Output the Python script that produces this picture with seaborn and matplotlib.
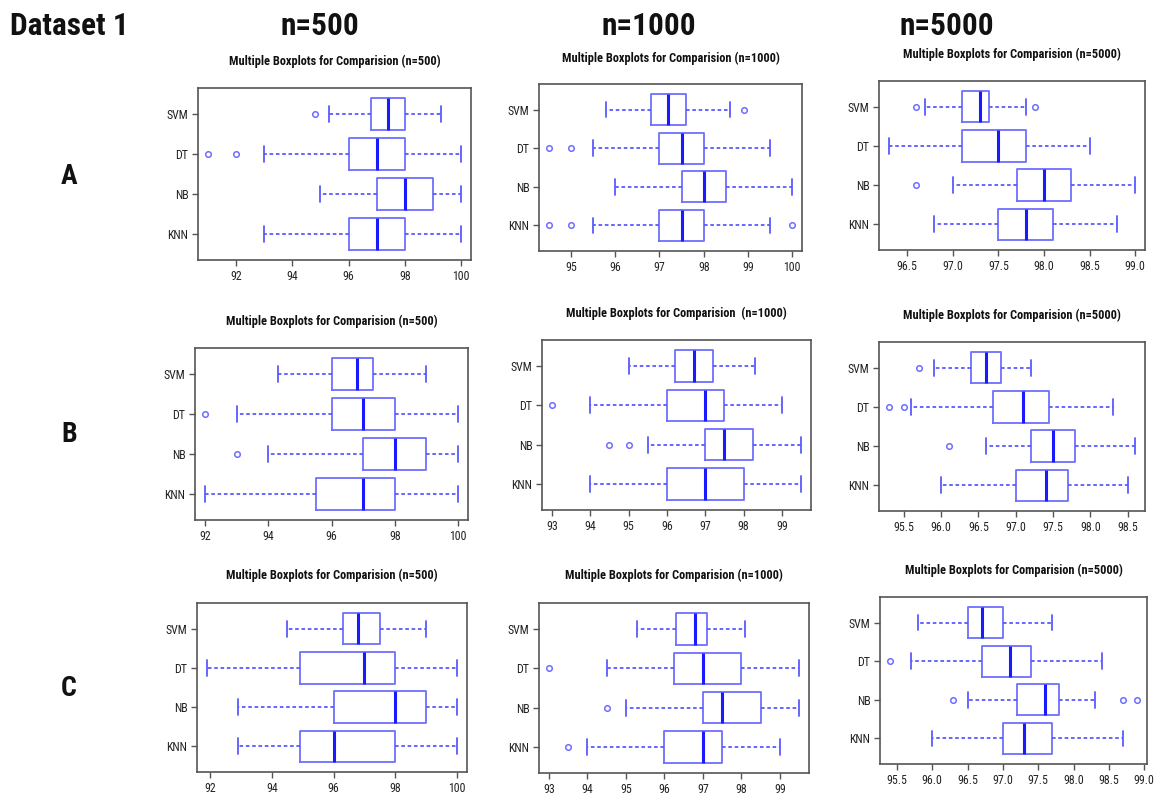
import numpy as np
import matplotlib
matplotlib.use("Agg")
import matplotlib.pyplot as plt
from matplotlib import font_manager
import seaborn as sns

# ---------------- data ----------------
classifiers = ["SVM", "DT", "NB", "KNN"]
sizes = ["500", "1000", "5000"]
rows = ["A", "B", "C"]

# Row A
A500_lo = [95.3, 93.0, 95.0, 93.0]
A500_q1 = [96.8, 96.0, 97.0, 96.0]
A500_med = [97.4, 97.0, 98.0, 97.0]
A500_q3 = [98.0, 98.0, 99.0, 98.0]
A500_hi = [99.3, 100.0, 100.0, 100.0]
A500_out = [[94.8], [91.0, 92.0], [], []]

A1000_lo = [95.8, 95.5, 96.0, 95.5]
A1000_q1 = [96.8, 97.0, 97.5, 97.0]
A1000_med = [97.2, 97.5, 98.0, 97.5]
A1000_q3 = [97.6, 98.0, 98.5, 98.0]
A1000_hi = [98.6, 99.5, 100.0, 99.5]
A1000_out = [[98.9], [94.5, 95.0], [], [94.5, 95.0, 100.0]]

A5000_lo = [96.7, 96.3, 97.0, 96.8]
A5000_q1 = [97.1, 97.1, 97.7, 97.5]
A5000_med = [97.3, 97.5, 98.0, 97.8]
A5000_q3 = [97.4, 97.8, 98.3, 98.1]
A5000_hi = [97.8, 98.5, 99.0, 98.8]
A5000_out = [[96.6, 97.9], [], [96.6], []]

# Row B
B500_lo = [94.3, 93.0, 94.0, 92.0]
B500_q1 = [96.0, 96.0, 97.0, 95.5]
B500_med = [96.8, 97.0, 98.0, 97.0]
B500_q3 = [97.3, 98.0, 99.0, 98.0]
B500_hi = [99.0, 100.0, 100.0, 100.0]
B500_out = [[], [92.0], [93.0], []]

B1000_lo = [95.0, 94.0, 95.5, 94.0]
B1000_q1 = [96.2, 96.0, 97.0, 96.0]
B1000_med = [96.7, 97.0, 97.5, 97.0]
B1000_q3 = [97.2, 97.5, 98.25, 98.0]
B1000_hi = [98.3, 99.0, 99.5, 99.5]
B1000_out = [[], [93.0], [94.5, 95.0], []]

B5000_lo = [95.9, 95.6, 96.6, 96.0]
B5000_q1 = [96.4, 96.7, 97.2, 97.0]
B5000_med = [96.6, 97.1, 97.5, 97.4]
B5000_q3 = [96.8, 97.45, 97.8, 97.7]
B5000_hi = [97.2, 98.3, 98.6, 98.5]
B5000_out = [[95.7], [95.3, 95.5], [96.1], []]

# Row C
C500_lo = [94.5, 91.9, 92.9, 92.9]
C500_q1 = [96.3, 94.9, 96.0, 94.9]
C500_med = [96.8, 97.0, 98.0, 96.0]
C500_q3 = [97.5, 98.0, 99.0, 98.0]
C500_hi = [99.0, 100.0, 100.0, 100.0]
C500_out = [[], [], [], []]

C1000_lo = [95.3, 94.5, 95.0, 94.0]
C1000_q1 = [96.3, 96.25, 97.0, 96.0]
C1000_med = [96.8, 97.0, 97.5, 97.0]
C1000_q3 = [97.1, 98.0, 98.5, 97.5]
C1000_hi = [98.1, 99.5, 99.5, 99.0]
C1000_out = [[], [93.0], [94.5], [93.5]]

C5000_lo = [95.8, 95.7, 96.5, 96.0]
C5000_q1 = [96.5, 96.7, 97.2, 97.0]
C5000_med = [96.7, 97.1, 97.6, 97.3]
C5000_q3 = [97.0, 97.4, 97.8, 97.7]
C5000_hi = [97.7, 98.4, 98.3, 98.7]
C5000_out = [[], [95.4], [96.3, 98.7, 98.9], []]

# tick labels per panel
ticks_500 = [92, 94, 96, 98, 100]
ticks_A1000 = [95, 96, 97, 98, 99, 100]
ticks_A5000 = ["96.5", "97.0", "97.5", "98.0", "98.5", "99.0"]
ticks_B1000 = [93, 94, 95, 96, 97, 98, 99]
ticks_B5000 = ["95.5", "96.0", "96.5", "97.0", "97.5", "98.0", "98.5"]
ticks_C5000 = ["95.5", "96.0", "96.5", "97.0", "97.5", "98.0", "98.5", "99.0"]

panels = {
    ("A", "500"): (A500_lo, A500_q1, A500_med, A500_q3, A500_hi, A500_out, ticks_500),
    ("A", "1000"): (A1000_lo, A1000_q1, A1000_med, A1000_q3, A1000_hi, A1000_out, ticks_A1000),
    ("A", "5000"): (A5000_lo, A5000_q1, A5000_med, A5000_q3, A5000_hi, A5000_out, ticks_A5000),
    ("B", "500"): (B500_lo, B500_q1, B500_med, B500_q3, B500_hi, B500_out, ticks_500),
    ("B", "1000"): (B1000_lo, B1000_q1, B1000_med, B1000_q3, B1000_hi, B1000_out, ticks_B1000),
    ("B", "5000"): (B5000_lo, B5000_q1, B5000_med, B5000_q3, B5000_hi, B5000_out, ticks_B5000),
    ("C", "500"): (C500_lo, C500_q1, C500_med, C500_q3, C500_hi, C500_out, ticks_500),
    ("C", "1000"): (C1000_lo, C1000_q1, C1000_med, C1000_q3, C1000_hi, C1000_out, ticks_B1000),
    ("C", "5000"): (C5000_lo, C5000_q1, C5000_med, C5000_q3, C5000_hi, C5000_out, ticks_C5000),
}

# ---------------- layout (pixels: x0, y0_top, x1, y1_bottom) ----------------
W, H = 1154, 798
axes_px = {
    ("A", "500"): (198, 88, 471, 260), ("A", "1000"): (539, 84, 802, 251), ("A", "5000"): (879, 81, 1145, 250),
    ("B", "500"): (195, 348, 468, 520), ("B", "1000"): (542, 340, 811, 510), ("B", "5000"): (879, 342, 1145, 511),
    ("C", "500"): (197, 603, 467, 772), ("C", "1000"): (539, 603, 809, 773), ("C", "5000"): (880, 597, 1147, 764),
}
title_y = {
    ("A", "500"): 61, ("A", "1000"): 58, ("A", "5000"): 54,
    ("B", "500"): 321, ("B", "1000"): 313, ("B", "5000"): 315,
    ("C", "500"): 575, ("C", "1000"): 575, ("C", "5000"): 570,
}
title_extra_space = {("B", "1000"): " "}

sns.set_theme(style="white")

# pick a narrow (Arial Narrow-like) face if one is installed
fl = font_manager.fontManager.ttflist
family, stretch, narrow_ok = "Liberation Sans", "normal", False
for nm in ["Liberation Sans Narrow", "Arial Narrow", "Roboto Condensed", "Open Sans Condensed",
           "Noto Sans Condensed", "DejaVu Sans Condensed"]:
    if any(f.name == nm for f in fl):
        family, stretch, narrow_ok = nm, "normal", True
        break
if not narrow_ok:
    for nm in ["Noto Sans", "Roboto", "Open Sans", "DejaVu Sans", "Inter"]:
        if any(f.name == nm and f.stretch == "condensed" and f.weight in (700, "bold") for f in fl):
            family, stretch, narrow_ok = nm, "condensed", True
            break
plt.rcParams["font.family"] = [family, "DejaVu Sans"]
plt.rcParams["font.stretch"] = stretch

BOX = "#6e6eff"
MED = "#1a1aff"
WHISK = "#5a5aff"
FRAME = "#555555"

fig = plt.figure(figsize=(W / 100, H / 100), dpi=100)
fig.patch.set_facecolor("white")

tick_fs = 8.6 if narrow_ok else 7.8
title_fs = 8.9 if narrow_ok else 8.0
head_fs = 22.5 if narrow_ok else 21

positions = [4, 3, 2, 1]
for key, (lo, q1, med, q3, hi, out, ticks) in panels.items():
    x0, y0, x1, y1 = axes_px[key]
    ax = fig.add_axes([x0 / W, 1 - y1 / H, (x1 - x0) / W, (y1 - y0) / H])
    stats = []
    for i, c in enumerate(classifiers):
        stats.append(dict(label=c, whislo=lo[i], q1=q1[i], med=med[i], q3=q3[i],
                          whishi=hi[i], fliers=np.array(out[i], dtype=float)))
    ax.bxp(stats, positions=positions, orientation="horizontal", widths=0.8,
           capwidths=0.4, showfliers=True, patch_artist=False,
           boxprops=dict(color=BOX, linewidth=1.3),
           medianprops=dict(color=MED, linewidth=2.2, solid_capstyle="butt"),
           whiskerprops=dict(color=WHISK, linewidth=1.3, linestyle=(0, (2.0, 1.5))),
           capprops=dict(color=WHISK, linewidth=1.3),
           flierprops=dict(marker="o", markerfacecolor="none", markeredgecolor=BOX,
                           markersize=4, markeredgewidth=1.1, linestyle="none"))
    allv = list(lo) + list(hi) + [v for o in out for v in o]
    vmin, vmax = min(allv), max(allv)
    pad = 0.04 * (vmax - vmin)
    ax.set_xlim(vmin - pad, vmax + pad)
    ax.set_ylim(0.34, 4.66)
    ax.set_xticks([float(t) for t in ticks])
    ax.set_xticklabels([str(t) for t in ticks])
    ax.set_yticks(positions)
    ax.set_yticklabels(classifiers)
    ax.tick_params(axis="both", direction="out", length=4, width=1, color=FRAME,
                   labelsize=tick_fs, pad=3, bottom=True, left=True, labelcolor="#222222")
    for s in ax.spines.values():
        s.set_color(FRAME)
        s.set_linewidth(1.2)
    ax.grid(False)
    row, n = key
    cx = (x0 + x1) / 2 / W
    fig.text(cx, 1 - title_y[key] / H,
             "Multiple Boxplots for Comparision" + title_extra_space.get(key, "") + f" (n={n})",
             ha="center", va="center", fontsize=title_fs, fontweight="bold", color="#111111")

# big headers
fig.text(10 / W, 1 - 26 / H, "Dataset 1", ha="left", va="center", fontsize=head_fs,
         fontweight="bold", color="#111111")
for n, cx in zip(sizes, [320, 649, 947]):
    fig.text(cx / W, 1 - 26 / H, f"n={n}", ha="center", va="center", fontsize=head_fs,
             fontweight="bold", color="#111111")
for r, cy in zip(rows, [176, 434, 688]):
    fig.text(69 / W, 1 - cy / H, r, ha="center", va="center", fontsize=20,
             fontweight="bold", color="#111111")

fig.savefig("out.png", dpi=100, facecolor="white")
